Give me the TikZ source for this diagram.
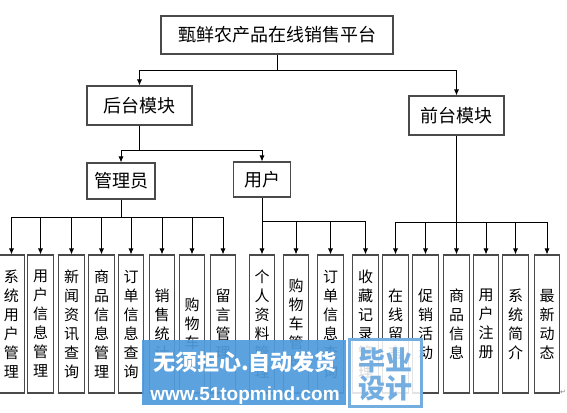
\documentclass[tikz,border=0pt]{standalone}
\usepackage{fontspec}
\setmainfont{Noto Sans CJK SC}
\newfontfamily\latinwm{Liberation Sans}
\newfontfamily\symfont{DejaVu Sans}
\usetikzlibrary{arrows.meta}
\definecolor{boxgray}{HTML}{4A4A4A}
\definecolor{wmblue}{HTML}{4F9BDC}
\definecolor{wmlight}{HTML}{74AEE0}
\begin{document}
\begin{tikzpicture}[x=1pt,y=-1pt,
  box/.style={draw=boxgray, line width=1.1pt, inner sep=0pt, fill=white,
    font=\fontsize{18}{20}\selectfont},
  leaf/.style={draw=boxgray, line width=1.1pt, inner sep=0pt, fill=white,
    minimum width=25.5pt, minimum height=138pt, align=center,
    font=\fontsize{15}{19}\selectfont},
  conn/.style={draw=black, line width=0.8pt},
  arr/.style={conn, -{Latex[length=6pt,width=5pt]}}]
\useasboundingbox (0,0) rectangle (567,412);

% upper boxes
\node[box, minimum width=232pt, minimum height=38pt] (top) at (277,35) {甄鲜农产品在线销售平台};
\node[box, minimum width=105pt, minimum height=39pt] (hou) at (139.5,105.5) {后台模块};
\node[box, minimum width=95pt, minimum height=39pt] (qian) at (456.5,115.5) {前台模块};
\node[box, minimum width=68pt, minimum height=36pt] (adm) at (121,181) {管理员};
\node[box, minimum width=57pt, minimum height=35pt] (usr) at (262,179.5) {用户};

% leaves
\node[leaf] (l1) at (11.5,324) {系\\统\\用\\户\\管\\理};
\node[leaf] (l2) at (40.5,324) {用\\户\\信\\息\\管\\理};
\node[leaf] (l3) at (71.5,324) {新\\闻\\资\\讯\\查\\询};
\node[leaf] (l4) at (101.5,324) {商\\品\\信\\息\\管\\理};
\node[leaf] (l5) at (131,324) {订\\单\\信\\息\\查\\询};
\node[leaf] (l6) at (162,324) {销\\售\\统\\计};
\node[leaf] (l7) at (192,324) {购\\物\\车};
\node[leaf] (l8) at (223,324) {留\\言\\管\\理};
\node[leaf] (l9) at (262,324) {个\\人\\资\\料\\管\\理};
\node[leaf] (l10) at (296,324) {购\\物\\车\\管\\理};
\node[leaf] (l11) at (330.5,324) {订\\单\\信\\息\\查\\询};
\node[leaf] (l12) at (365.5,324) {收\\藏\\记\\录\\管\\理};
\node[leaf] (l13) at (395.5,324) {在\\线\\留\\言};
\node[leaf] (l14) at (425.5,324) {促\\销\\活\\动};
\node[leaf] (l15) at (456.5,324) {商\\品\\信\\息};
\node[leaf] (l16) at (486,324) {用\\户\\注\\册};
\node[leaf] (l17) at (515.5,324) {系\\统\\简\\介};
\node[leaf] (l18) at (547,324) {最\\新\\动\\态};

% connectors
\draw[conn] (top.south) -- (277,70) coordinate (j0);
\draw[arr] (j0) -| (hou.north);
\draw[arr] (j0) -| (qian.north);

\draw[conn] (hou.south) -- (139.5,150) coordinate (j1);
\draw[arr] (j1) -| (adm.north);
\draw[arr] (j1) -| (usr.north);

\draw[conn] (adm.south) -- (121,217) coordinate (ja);
\foreach \i in {1,...,8} {\draw[arr] (ja) -| (l\i.north);}

\draw[conn] (usr.south) -- (262,221) coordinate (ju);
\foreach \i in {9,...,12} {\draw[arr] (ju) -| (l\i.north);}

\draw[conn] (qian.south) -- (456.5,222) coordinate (jq);
\foreach \i in {13,...,18} {\draw[arr] (jq) -| (l\i.north);}

% paragraph mark
\node[text=gray, font=\symfont\fontsize{7}{8}\selectfont, inner sep=0pt] (pm) at (563,392) {↵};

% watermark
\fill[wmblue, opacity=0.93] (142,340) rectangle (346,405);
\node[text=white, font=\bfseries\fontsize{22}{24}\selectfont, inner sep=0pt] (wm1) at (245,362) {无须担心.自动发货};
\node[text=white, font=\latinwm\bfseries\fontsize{19}{21}\selectfont, inner sep=0pt] (wm2) at (245,396) {www.51topmind.com};
\filldraw[draw=wmlight, line width=3pt, fill=white, fill opacity=0.85, draw opacity=1] (349,339) rectangle (421,406);
\node[text=wmlight, font=\bfseries\fontsize{27}{29}\selectfont, inner sep=0pt] (wm3) at (385,360) {毕业};
\node[text=wmlight, font=\bfseries\fontsize{27}{29}\selectfont, inner sep=0pt] (wm4) at (385,388) {设计};
\end{tikzpicture}
\end{document}
